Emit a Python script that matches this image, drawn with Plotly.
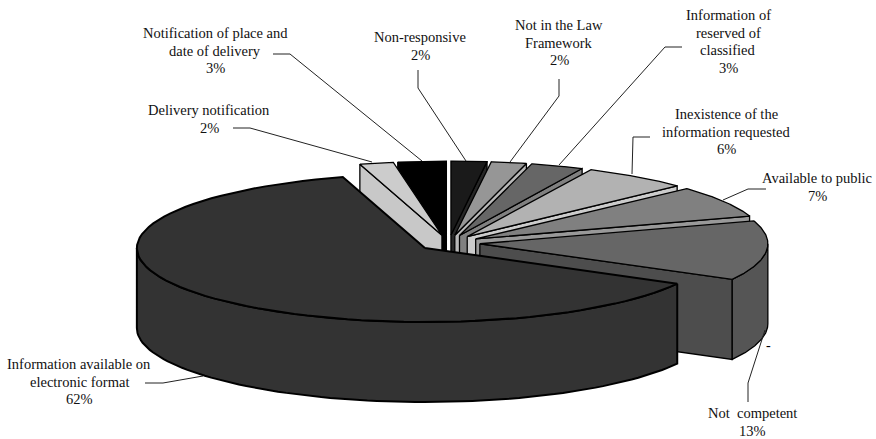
import numpy as np
import plotly.graph_objects as go

# Data, clockwise from the top of the pie (estimated from the drawn angles; labels show the rounded figures)
slice_names = ["Non-responsive", "Not in the Law Framework", "Information of reserved of classified",
               "Inexistence of the information requested", "Available to public", "Not competent",
               "Information available on electronic format", "Delivery notification",
               "Notification of place and date of delivery"]
slice_values = [2, 2, 3, 6, 7, 13, 62.4, 1.9, 2.7]
top_colors = ["#1a1a1a", "#969696", "#666666", "#b2b2b2", "#808080", "#666666", "#333333", "#cccccc", "#000000"]
wall_colors = ["#262626", "#b8b8b8", "#808080", "#cccccc", "#999999", "#4d4d4d", "#333333", "#c8c8c8", "#000000"]
outer_colors = ["#262626", "#b8b8b8", "#808080", "#cccccc", "#999999", "#555555", "#333333", "#c8c8c8", "#000000"]

label_lines = [["Non-responsive", "2%"], ["Not in the Law", "Framework", "2%"],
               ["Information of", "reserved of", "classified", "3%"],
               ["Inexistence of the", "information requested", "6%"], ["Available to public", "7%"],
               ["Not  competent", "13%"], ["Information available on", "electronic format", "62%"],
               ["Delivery notification", "2%"], ["Notification of place and", "date of delivery", "3%"]]
label_x = [420, 559, 728, 726, 817, 752, 79, 209, 215]
label_top_y = [37, 25, 15, 114, 178, 413, 364, 110, 33]
LINE_STEP = 17.6
leader_x = [[418, 418, 466], [559, 559, 510], [682, 665, 559], [650, 633, 632], [766, 748, 723],
            [748, 748, 765], [145, 163, 203], [233, 250, 372], [273, 290, 422]]
leader_y = [[70, 88, 161], [79, 96, 162], [47, 47, 165], [137, 137, 174], [189, 189, 200],
            [402, 383, 330], [383, 383, 376], [128, 128, 162], [54, 54, 161]]

# Projection of the tilted pie onto the page
CX, CY = 449.0, 243.0
RX, RY = 288.0, 74.0
EXPLODE = 31.0
DEPTH = 80.0

fig = go.Figure()


def poly(xs, ys, fill, width=1.3):
    fig.add_trace(go.Scatter(x=list(xs), y=list(ys), mode="lines", fill="toself", fillcolor=fill,
                             line=dict(color="#000000", width=width), hoverinfo="skip", showlegend=False))


edges = np.concatenate([[0], np.cumsum(slice_values)]) * 3.6
parts = []
for i in range(len(slice_values)):
    a0, a1 = edges[i], edges[i + 1]
    mid = np.radians((a0 + a1) / 2)
    ax = CX + EXPLODE * np.sin(mid)
    ay = CY - EXPLODE * np.cos(mid) * RY / RX
    parts.append((i, a0, a1, ax, ay))


def rim(ax, ay, d0, d1, n=80):
    t = np.radians(np.linspace(d0, d1, n))
    return ax + RX * np.sin(t), ay - RY * np.cos(t)


def draw(i, a0, a1, ax, ay):
    w = 2.0 if slice_values[i] == max(slice_values) else 1.3
    # cut wall that faces the viewer
    if a1 <= 180 and slice_values[i] != max(slice_values):
        ex, ey = rim(ax, ay, a1, a1, 1)
        poly([ax, ex[0], ex[0], ax, ax], [ay, ey[0], ey[0] + DEPTH, ay + DEPTH, ay], wall_colors[i])
    if a0 >= 180 and slice_values[i] != max(slice_values):
        ex, ey = rim(ax, ay, a0, a0, 1)
        poly([ax, ex[0], ex[0], ax, ax], [ay, ey[0], ey[0] + DEPTH, ay + DEPTH, ay], wall_colors[i])
    # outer wall on the front half
    lo, hi = max(a0, 90), min(a1, 270)
    if hi > lo:
        rx_, ry_ = rim(ax, ay, lo, hi)
        poly(np.r_[rx_, rx_[::-1], rx_[0]], np.r_[ry_, ry_[::-1] + DEPTH, ry_[0]], outer_colors[i], w)
    # top face
    rx_, ry_ = rim(ax, ay, a0, a1)
    poly(np.r_[ax, rx_, ax], np.r_[ay, ry_, ay], top_colors[i], w)


# back to front: right-hand slices, then left-hand ones, then the large slice
order = [0, 1, 2, 3, 4, 5, 8, 7, 6]
for k in order:
    draw(*parts[k])

for lx, ly in zip(leader_x, leader_y):
    fig.add_trace(go.Scatter(x=lx, y=ly, mode="lines", line=dict(color="#222222", width=1),
                             hoverinfo="skip", showlegend=False))

for lines, x, y0 in zip(label_lines, label_x, label_top_y):
    for j, t in enumerate(lines):
        fig.add_annotation(x=x, y=y0 + j * LINE_STEP, xref="x", yref="y", text=t, showarrow=False,
                           align="center", font=dict(family="Liberation Serif", size=14.5, color="#111111"))
fig.add_annotation(x=768, y=345, xref="x", yref="y", text="-", showarrow=False,
                   font=dict(family="Liberation Serif", size=14, color="#000000"))

fig.update_layout(width=876, height=439, margin=dict(l=0, r=0, t=0, b=0),
                  paper_bgcolor="white", plot_bgcolor="white", showlegend=False,
                  xaxis=dict(range=[0, 876], visible=False, fixedrange=True),
                  yaxis=dict(range=[439, 0], visible=False, fixedrange=True))
fig.write_html("out.html", config={"displayModeBar": False},
               post_script="document.body.style.margin='0';document.documentElement.style.overflow='hidden';")
